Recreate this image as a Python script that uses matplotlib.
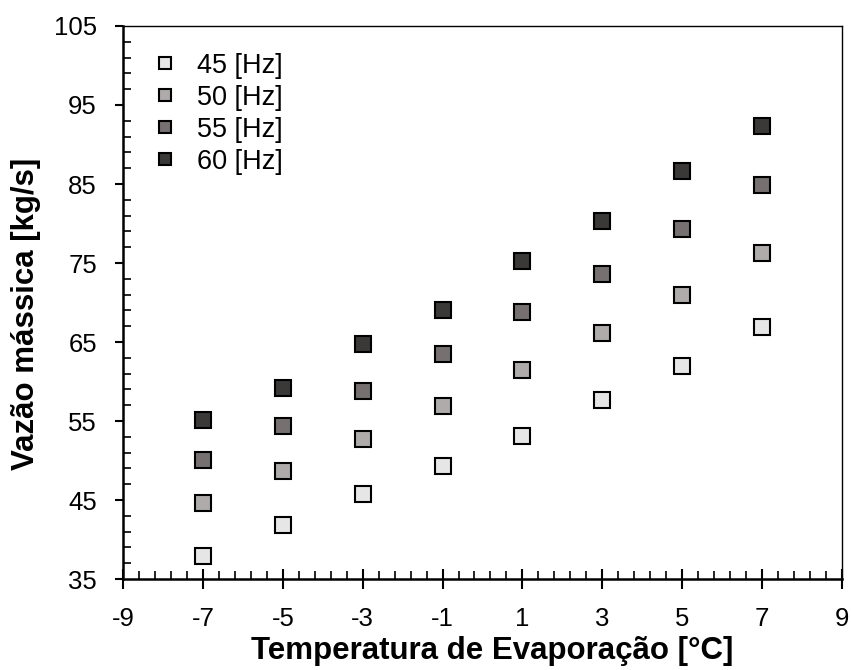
import matplotlib
matplotlib.use("Agg")
import numpy as np
import matplotlib.pyplot as plt
from matplotlib.ticker import FixedLocator

plt.rcParams['font.family'] = ['Liberation Sans', 'DejaVu Sans']
plt.rcParams['axes.unicode_minus'] = False

temperatures = [-7, -5, -3, -1, 1, 3, 5, 7]
flow_45hz = [37.9, 41.8, 45.7, 49.3, 53.1, 57.6, 62.0, 66.9]
flow_50hz = [44.6, 48.7, 52.7, 56.9, 61.5, 66.2, 70.9, 76.3]
flow_55hz = [50.1, 54.4, 58.8, 63.5, 68.8, 73.6, 79.3, 84.9]
flow_60hz = [55.1, 59.2, 64.8, 69.1, 75.2, 80.3, 86.6, 92.4]

series_labels = ['45 [Hz]', '50 [Hz]', '55 [Hz]', '60 [Hz]']
series_colors = ['#e6e6e6', '#afabab', '#767170', '#3b3938']

fig = plt.figure(figsize=(8.51, 6.70), dpi=100)
ax = fig.add_axes([0.1449, 0.1358, 0.989 - 0.1449, 0.9612 - 0.1358])

for values, label, color in zip([flow_45hz, flow_50hz, flow_55hz, flow_60hz],
                                series_labels, series_colors):
    ax.plot(temperatures, values, linestyle='none', marker='s', markersize=11.5,
            markerfacecolor=color, markeredgecolor='black', markeredgewidth=1.5,
            label=label)

ax.set_xlim(-9, 9)
ax.set_ylim(35, 105)
ax.xaxis.set_major_locator(FixedLocator(np.arange(-9, 9.01, 2)))
ax.xaxis.set_minor_locator(FixedLocator(np.arange(-9, 9.01, 0.4)))
ax.yaxis.set_major_locator(FixedLocator(np.arange(35, 105.1, 10)))
ax.yaxis.set_minor_locator(FixedLocator(np.arange(35, 105.1, 2)))

ax.tick_params(axis='x', which='major', direction='inout', length=14, width=1.5,
               labelsize=18.5, pad=13)
ax.tick_params(axis='y', which='major', direction='out', length=6, width=1.5,
               labelsize=18.5, pad=13)
ax.tick_params(which='minor', direction='in', length=6, width=1.2)

ax.spines['left'].set_linewidth(1.8)
ax.spines['bottom'].set_linewidth(1.8)
ax.spines['top'].set_linewidth(1.0)
ax.spines['right'].set_linewidth(1.0)

ax.set_xlabel('Temperatura de Evaporação [°C]', fontsize=22.5, fontweight='bold',
              va='center')
ax.xaxis.set_label_coords(0.513, -0.131)
ax.set_ylabel('Vazão mássica [kg/s]', fontsize=22.5, fontweight='bold')
ax.yaxis.set_label_coords(-0.114, 0.479)

ax.legend(loc='upper left', frameon=False, fontsize=19.5, handletextpad=0.55,
          handlelength=1.2, labelspacing=0.22, borderaxespad=0.0,
          bbox_to_anchor=(0.021, 0.971), markerscale=0.8)

fig.savefig('out.png', dpi=100)
